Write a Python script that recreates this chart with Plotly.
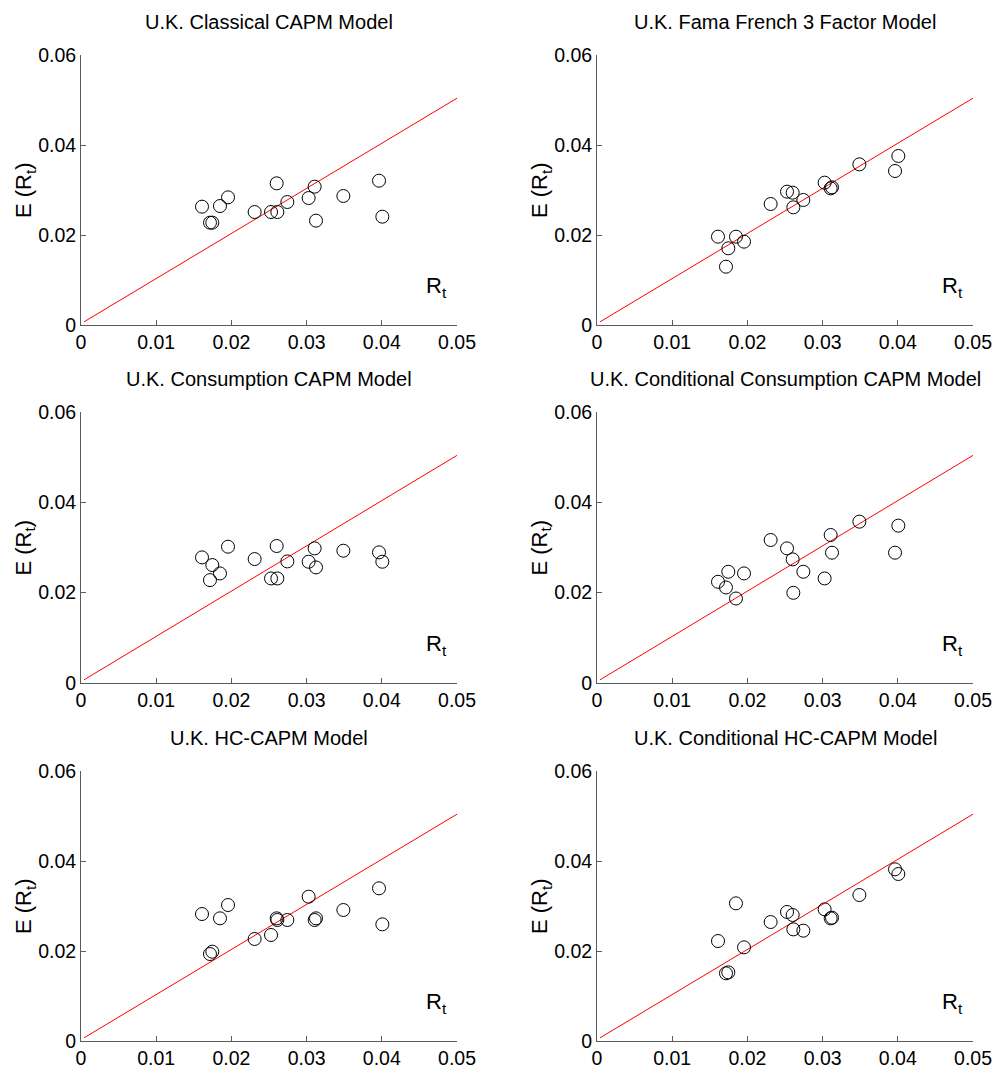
import plotly.graph_objects as go

# Realised mean returns (same test assets for every model)
r_t = [0.01609, 0.01715, 0.01746, 0.01848, 0.01955, 0.02309, 0.02527, 0.02602,
       0.02611, 0.02744, 0.03027, 0.03107, 0.03125, 0.03489, 0.03963, 0.04007]

# Model-predicted expected returns
capm = [0.0263, 0.02274, 0.02274, 0.02644, 0.02837, 0.02511, 0.02511, 0.03148,
        0.02511, 0.02733, 0.02822, 0.03074, 0.02319, 0.02867, 0.03207, 0.02407]
ff3 = [0.01963, 0.01296, 0.01704, 0.01963, 0.01852, 0.02689, 0.02963, 0.02941,
       0.02615, 0.02778, 0.03163, 0.03037, 0.03059, 0.0357, 0.03422, 0.03756]
ccapm = [0.02781, 0.02278, 0.02611, 0.02426, 0.03018, 0.02744, 0.02315, 0.03033,
         0.02315, 0.02692, 0.02685, 0.02981, 0.02559, 0.02929, 0.02892, 0.02685]
cond_ccapm = [0.02241, 0.02115, 0.02463, 0.01871, 0.02426, 0.03166, 0.02981, 0.02737,
              0.01997, 0.02463, 0.02315, 0.03277, 0.02885, 0.03572, 0.02885, 0.03484]
hccapm = [0.02822, 0.01933, 0.01985, 0.02726, 0.03022, 0.02267, 0.02356, 0.02726,
          0.02689, 0.02689, 0.03207, 0.02689, 0.02726, 0.02911, 0.03393, 0.02593]
cond_hccapm = [0.02222, 0.01504, 0.01526, 0.03059, 0.02081, 0.02644, 0.02867, 0.028,
               0.02481, 0.02452, 0.02926, 0.02726, 0.02741, 0.03244, 0.03815, 0.03711]

titles = ["U.K. Classical CAPM Model", "U.K. Fama French 3 Factor Model",
          "U.K. Consumption CAPM Model", "U.K. Conditional Consumption CAPM Model",
          "U.K. HC-CAPM Model", "U.K. Conditional HC-CAPM Model"]
series = [capm, ff3, ccapm, cond_ccapm, hccapm, cond_hccapm]

# 45-degree reference line
line_x = [0.0004, 0.05]
line_y = [0.0007, 0.0504]

x_ticks = [0, 0.01, 0.02, 0.03, 0.04, 0.05]
x_ticktext = ["0", "0.01", "0.02", "0.03", "0.04", "0.05"]
y_ticks = [0, 0.02, 0.04, 0.06]
y_ticktext = ["0", "0.02", "0.04", "0.06"]

W, H = 998, 1083
FONT = "Liberation Sans, Arial, sans-serif"

# pixel geometry of the panels (in window pixels)
cols_px = [(81, 457), (597, 973)]
rows_px = [(55, 325), (412, 683), (771, 1041)]


def px_x(v):
    return v / W


def px_y(v):
    return 1 - v / H


fig = go.Figure()
annotations = []
for i, (title, ys) in enumerate(zip(titles, series)):
    r, c = divmod(i, 2)
    idx = "" if i == 0 else str(i + 1)
    xa, ya = "x" + idx, "y" + idx
    fig.add_trace(go.Scatter(x=line_x, y=line_y, mode="lines",
                             line=dict(color="#ff0000", width=1),
                             xaxis=xa, yaxis=ya, showlegend=False, hoverinfo="skip"))
    fig.add_trace(go.Scatter(x=r_t, y=ys, mode="markers",
                             marker=dict(symbol="circle-open", size=13,
                                         color="black", line=dict(color="black", width=1)),
                             xaxis=xa, yaxis=ya, showlegend=False))
    x0, x1 = cols_px[c]
    y0, y1 = rows_px[r]
    axcommon = dict(showgrid=False, zeroline=False, showline=True, linecolor="#5a5a5a",
                    linewidth=1, ticks="inside", ticklen=5, tickcolor="#5a5a5a",
                    tickwidth=1, tickfont=dict(family=FONT, size=19.5, color="black"),
                    mirror=False, fixedrange=True, automargin=False)
    fig.layout["xaxis" + idx] = go.layout.XAxis(
        domain=[px_x(x0), px_x(x1)], range=[0, 0.05], anchor=ya,
        tickvals=x_ticks, ticktext=x_ticktext, **axcommon)
    fig.layout["yaxis" + idx] = go.layout.YAxis(
        domain=[px_y(y1), px_y(y0)], range=[0, 0.06], anchor=xa,
        tickvals=y_ticks, ticktext=y_ticktext, **axcommon)
    # panel title
    annotations.append(dict(text=title, x=px_x((x0 + x1) / 2), y=px_y(y0 - 33),
                            xref="paper", yref="paper", showarrow=False,
                            xanchor="center", yanchor="middle",
                            font=dict(family=FONT, size=20, color="black")))
    # y-axis label
    annotations.append(dict(text="E (R<sub>t</sub>)", x=px_x(x0 - 56),
                            y=px_y((y0 + y1) / 2), textangle=-90,
                            xref="paper", yref="paper", showarrow=False,
                            xanchor="center", yanchor="middle",
                            font=dict(family=FONT, size=22, color="black")))
    # x label inside the axes
    annotations.append(dict(text="R<sub>t</sub>", x=0.0473, y=0.0085,
                            xref=xa, yref=ya, showarrow=False,
                            xanchor="center", yanchor="middle",
                            font=dict(family=FONT, size=22, color="black")))

fig.update_layout(width=W, height=H, margin=dict(l=0, r=0, t=0, b=0, pad=0),
                  autosize=False, plot_bgcolor="white", paper_bgcolor="white",
                  annotations=annotations)
fig.write_html("out.html", config={"displayModeBar": False},
               post_script="document.body.style.margin='0';"
                           "document.body.style.overflow='hidden';")
